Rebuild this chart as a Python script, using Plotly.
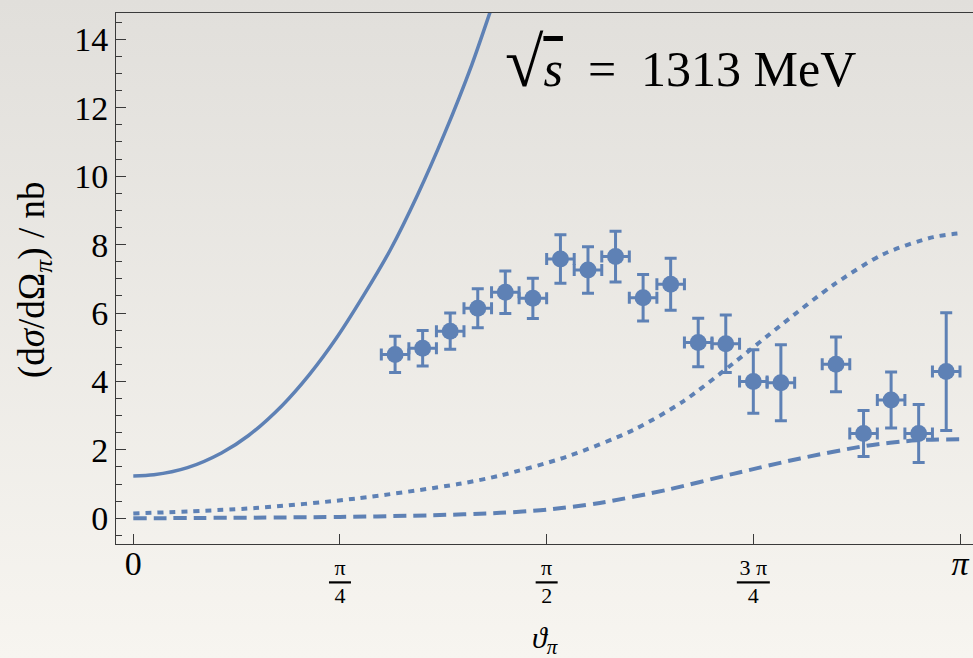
import base64
import numpy as np
import plotly.graph_objects as go

# ---------------- data ----------------
data_angle_deg = [57, 63, 69, 75, 81, 87, 93, 99, 105, 111, 117, 123, 129, 135, 141,
                  153, 159, 165, 171, 177]
data_value = [4.79, 4.97, 5.47, 6.14, 6.61, 6.43, 7.58, 7.26, 7.65, 6.45, 6.84, 5.14,
              5.10, 4.00, 3.96, 4.50, 2.48, 3.46, 2.48, 4.29]
data_error = [0.53, 0.52, 0.53, 0.57, 0.62, 0.59, 0.71, 0.68, 0.74, 0.68, 0.76, 0.71,
              0.84, 0.93, 1.11, 0.80, 0.67, 0.82, 0.85, 1.72]
bin_half_width_deg = 3

solid_theta = [0.0, 0.078, 0.206, 0.335, 0.438, 0.566, 0.669, 0.772, 0.874, 0.977,
               1.080, 1.183, 1.286, 1.356, 1.40]
solid_value = [1.24, 1.27, 1.48, 1.91, 2.42, 3.30, 4.20, 5.27, 6.50, 7.85,
               9.45, 11.25, 13.25, 14.80, 15.80]

dotted_theta = [0.0, 0.463, 0.849, 1.234, 1.394, 1.647, 1.900, 2.090, 2.280, 2.470,
                2.660, 2.850, 3.040, 3.1416]
dotted_value = [0.14, 0.30, 0.58, 1.00, 1.25, 1.80, 2.58, 3.42, 4.53, 5.70,
                6.82, 7.72, 8.22, 8.33]

dashed_theta = [0.0, 0.785, 1.140, 1.394, 1.571, 1.773, 2.027, 2.280, 2.534, 2.787,
                2.977, 3.1416]
dashed_value = [0.0, 0.04, 0.09, 0.16, 0.25, 0.45, 0.83, 1.30, 1.75, 2.12, 2.28, 2.31]

x_tick_values = [0, np.pi / 4, np.pi / 2, 3 * np.pi / 4, np.pi]
x_tick_labels = [
    "<span style='font-size:34px'>0</span>",
    "π<br><span style='text-decoration:overline'>&nbsp;4&nbsp;</span>",
    "π<br><span style='text-decoration:overline'>&nbsp;2&nbsp;</span>",
    "3 π<br><span style='text-decoration:overline'>&nbsp;&nbsp;4&nbsp;&nbsp;</span>",
    "<span style='font-size:34px'><i>π</i></span>",
]
y_tick_values = [0, 2, 4, 6, 8, 10, 12, 14]

# ---------------- style ----------------
BLUE = "#5E81B5"
FONT = "Liberation Serif"
AXC = "#3a3a3a"

fig = go.Figure()

fig.add_trace(go.Scatter(x=solid_theta, y=solid_value, mode="lines",
                         line=dict(color=BLUE, width=3.5, shape="spline", smoothing=0.8),
                         showlegend=False, hoverinfo="skip"))
fig.add_trace(go.Scatter(x=dotted_theta, y=dotted_value, mode="lines",
                         line=dict(color=BLUE, width=4, dash="6px,6px", shape="spline", smoothing=0.8),
                         showlegend=False, hoverinfo="skip"))
fig.add_trace(go.Scatter(x=dashed_theta, y=dashed_value, mode="lines",
                         line=dict(color=BLUE, width=4, dash="13px,7px", shape="spline", smoothing=0.8),
                         showlegend=False, hoverinfo="skip"))

data_theta = np.deg2rad(data_angle_deg)
fig.add_trace(go.Scatter(
    x=data_theta, y=data_value, mode="markers",
    marker=dict(color=BLUE, size=17),
    error_y=dict(type="data", array=data_error, color=BLUE, thickness=3, width=6),
    error_x=dict(type="constant", value=np.deg2rad(bin_half_width_deg), color=BLUE,
                 thickness=3, width=6),
    showlegend=False))

# background gradient
svg = ('<svg xmlns="http://www.w3.org/2000/svg" width="973" height="658" viewBox="0 0 973 658" '
       'preserveAspectRatio="none"><defs><linearGradient id="g" x1="0" y1="0" x2="0" y2="1">'
       '<stop offset="0" stop-color="#e1dfdb"/><stop offset="1" stop-color="#f7f5f0"/>'
       '</linearGradient></defs><rect width="973" height="658" fill="url(#g)"/></svg>')
bg_src = "data:image/svg+xml;base64," + base64.b64encode(svg.encode()).decode()

W, H = 973, 658
ax_left, ax_right, ax_top, ax_bottom = 116, 973, 13, 544.3
px_per_pi = 826.7
x0_px = 133.3
y0_px, px_per_unit = 518.3, 34.21

fig.update_layout(
    width=W, height=H,
    margin=dict(l=0, r=0, t=0, b=0),
    paper_bgcolor="#eceae5",
    plot_bgcolor="rgba(0,0,0,0)",
    font=dict(family=FONT, color="black"),
    images=[dict(source=bg_src, xref="paper", yref="paper", x=0, y=1, sizex=1, sizey=1,
                 sizing="stretch", xanchor="left", yanchor="top", layer="below")],
    xaxis=dict(
        domain=[ax_left / W, ax_right / W],
        range=[(ax_left - x0_px) / px_per_pi * np.pi, (ax_right - x0_px) / px_per_pi * np.pi],
        showgrid=False, zeroline=False, automargin=False,
        showline=True, linecolor=AXC, linewidth=1, mirror=True,
        ticks="inside", ticklen=10, tickcolor=AXC, tickwidth=1,
        tickvals=x_tick_values, ticktext=x_tick_labels,
        tickfont=dict(size=22, family=FONT), ticklabelstandoff=3,
    ),
    yaxis=dict(
        domain=[1 - ax_bottom / H, 1 - ax_top / H],
        range=[(y0_px - ax_bottom) / px_per_unit, (y0_px - ax_top) / px_per_unit],
        showgrid=False, zeroline=False, automargin=False,
        showline=True, linecolor=AXC, linewidth=1, mirror=False,
        ticks="inside", ticklen=10, tickcolor=AXC, tickwidth=1,
        tickvals=y_tick_values,
        minor=dict(ticks="inside", ticklen=6, dtick=0.5, tickcolor=AXC, tickwidth=1),
        tickfont=dict(size=34, family=FONT),
    ),
    annotations=[
        dict(text="<span style='font-size:70px'>√</span>"
                  "<span style='text-decoration:overline'><i>s</i></span>"
                  "&nbsp;&nbsp;=&nbsp;&nbsp;1313&nbsp;MeV",
             xref="paper", yref="paper", x=680 / W, y=1 - 62 / H,
             xanchor="center", yanchor="middle", showarrow=False,
             font=dict(size=50, family=FONT, color="black")),
        dict(text="(d<i>σ</i>/dΩ<sub><i>π</i></sub>)&nbsp;/&nbsp;nb",
             xref="paper", yref="paper", x=35 / W, y=1 - 280 / H, textangle=-90,
             xanchor="center", yanchor="middle", showarrow=False,
             font=dict(size=37, family=FONT, color="black")),
        dict(text="<i>ϑ</i><sub><i>π</i></sub>",
             xref="paper", yref="paper", x=545 / W, y=1 - 640 / H,
             xanchor="center", yanchor="middle", showarrow=False,
             font=dict(size=30, family=FONT, color="black")),
    ],
)

fig.write_html("out.html", config={"displayModeBar": False},
               post_script="document.body.style.margin='0';document.body.style.overflow='hidden';")
